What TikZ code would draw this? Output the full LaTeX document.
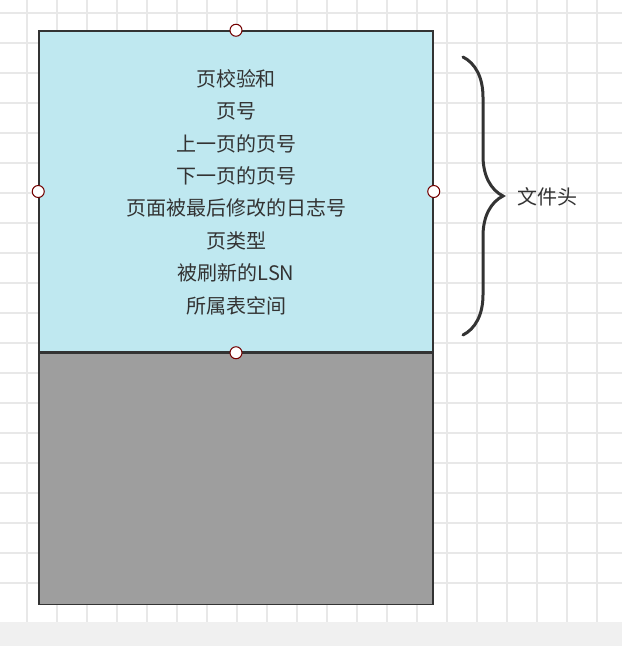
\documentclass[tikz,border=0pt]{standalone}
\usepackage{fontspec}
\setmainfont{Noto Sans CJK SC}
\usetikzlibrary{decorations.pathreplacing}
\begin{document}
\begin{tikzpicture}[x=1pt,y=-1pt,
  handle/.style={circle,draw=red!45!black,fill=white,line width=1pt,inner sep=0pt,minimum size=12pt},
  lbl/.style={font=\fontsize{20}{32.4}\selectfont,text=black!80,align=center}]
\useasboundingbox (0,0) rectangle (622,646);
\fill[white] (0,0) rectangle (622,646);
\foreach \x in {27,57,...,612} \draw[black!9,line width=1.2pt] (\x,0) -- (\x,622);
\foreach \y in {13,43,...,612} \draw[black!9,line width=1.2pt] (0,\y) -- (622,\y);
\fill[black!6] (0,622) rectangle (622,646);
\node[draw=black!80,fill={rgb,255:red,191;green,232;blue,240},line width=1.5pt,minimum width=394pt,minimum height=321pt,inner sep=0pt] (hdr) at (236,191.5) {};
\node[draw=black!80,fill={rgb,255:red,158;green,158;blue,158},line width=1.5pt,minimum width=394pt,minimum height=251pt,inner sep=0pt,anchor=north] (body) at (hdr.south) {};
\node[lbl] (txt) at (236,192) {页校验和\\页号\\上一页的页号\\下一页的页号\\页面被最后修改的日志号\\页类型\\被刷新的LSN\\所属表空间};
\node[handle] (h1) at (hdr.north) {};
\node[handle] (h2) at (hdr.west) {};
\node[handle] (h3) at (hdr.east) {};
\node[handle] (h4) at (hdr.south) {};
\coordinate (bt) at (463,57);
\coordinate (bb) at (463,335);
\draw[black!80,line width=3pt,line cap=round,decorate,decoration={brace,amplitude=40pt,aspect=0.5}] (bt) -- (bb);
\node[font=\fontsize{20}{24}\selectfont,text=black!80,anchor=west] (lab) at (514,197) {文件头};
\end{tikzpicture}
\end{document}
